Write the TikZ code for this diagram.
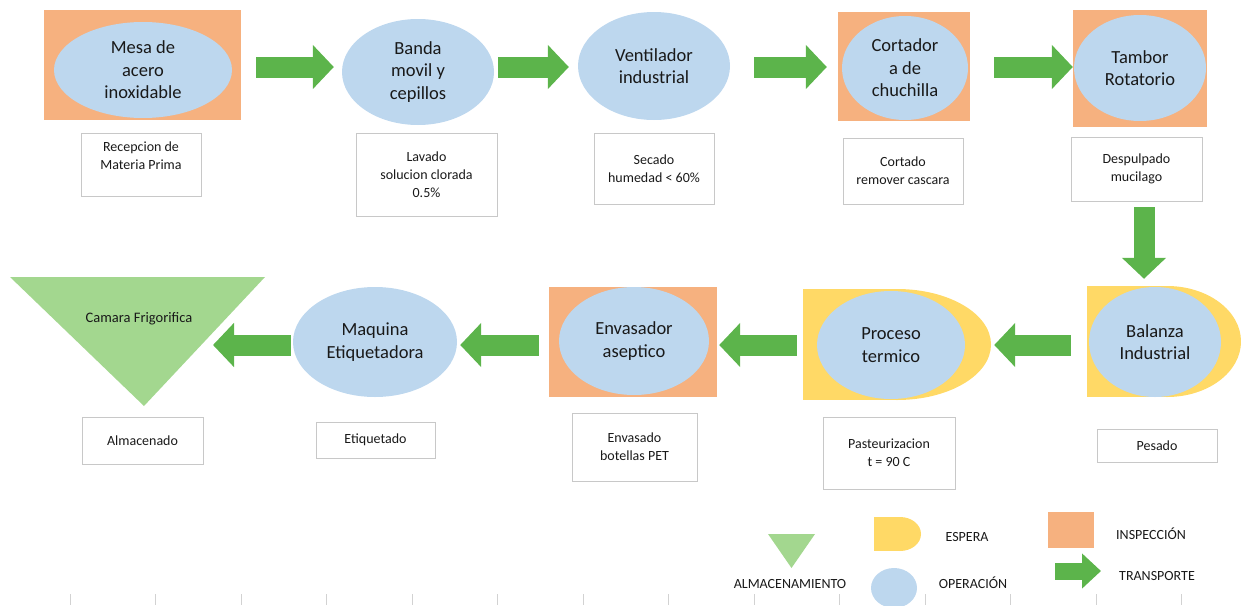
\documentclass[tikz,border=0pt]{standalone}
\usepackage{fontspec}
\setmainfont{Carlito}
\usepackage{tikz}
\usetikzlibrary{shapes.geometric, arrows.meta}

\definecolor{opblue}{HTML}{BDD7EE}
\definecolor{inorange}{HTML}{F6B17F}
\definecolor{espyellow}{HTML}{FFD966}
\definecolor{trgreen}{HTML}{5CB44B}
\definecolor{almgreen}{HTML}{A3D78F}
\definecolor{notagray}{HTML}{C8C8C8}

\tikzset{
    oper/.style={ellipse, fill=opblue, inner sep=0pt, align=center, text=black!90, font=\fontsize{18.5}{22.5}\selectfont},
    insp/.style={rectangle, fill=inorange, inner sep=0pt},
    esp/.style={fill=espyellow, inner sep=0pt},
    nota/.style={rectangle, draw=notagray, line width=0.9pt, inner sep=0pt, align=center, text=black!90, font=\fontsize{14}{18}\selectfont},
    transp/.style={draw=trgreen, line width=21pt, -{Triangle[width=43pt, length=21pt]}},
    leyenda/.style={inner sep=0pt, text=black!90, font=\fontsize{14}{16}\selectfont}
}

\begin{document}
\begin{tikzpicture}[x=1pt, y=-1pt]

        \useasboundingbox (0,0) rectangle (1241,605);
        \coordinate (filaA) at (0,67);
        \coordinate (filaB) at (0,345);
        \coordinate (bajada) at (1144,0);

        % primera fila
            \node[insp, minimum width=197pt, minimum height=110pt] (mesaI) at (142.5,65) {};
            \node[oper, minimum width=178pt, minimum height=96pt] (mesa) at (143,70) {Mesa de\\acero\\inoxidable};
            \node[nota, minimum width=120pt, minimum height=63pt] (recepcion) at (141,164.5) {Recepcion de\\Materia Prima\\\mbox{}};

            \node[oper, minimum width=152pt, minimum height=106pt] (banda) at (418,72) {Banda\\movil y\\cepillos};
            \node[nota, minimum width=141pt, minimum height=83pt] (lavado) at (426.5,174.5) {Lavado\\solucion clorada\\0.5\%};

            \node[oper, minimum width=152pt, minimum height=108pt] (ventilador) at (654,66) {Ventilador\\industrial};
            \node[nota, minimum width=120pt, minimum height=71pt] (secado) at (654,168.5) {Secado\\humedad < 60\%};

            \node[insp, minimum width=132pt, minimum height=109pt] (cortadorI) at (904,66.5) {};
            \node[oper, minimum width=126pt, minimum height=104pt] (cortador) at (905,68) {Cortador\\a de\\chuchilla};
            \node[nota, minimum width=120pt, minimum height=66pt] (cortado) at (903,171) {Cortado\\remover cascara};

            \node[insp, minimum width=134pt, minimum height=117pt] (tamborI) at (1140,68.5) {};
            \node[oper, minimum width=132pt, minimum height=106pt] (tambor) at (1140,68) {Tambor\\Rotatorio};
            \node[nota, minimum width=131pt, minimum height=64pt] (despulpado) at (1136.5,169) {Despulpado\\mucilago};

            \draw[transp, shorten <=15pt, shorten >=8pt] (mesaI.east |- filaA) -- (banda.west |- filaA);
            \draw[transp, shorten <=4pt, shorten >=9pt] (banda.east |- filaA) -- (ventilador.west |- filaA);
            \draw[transp, shorten <=24pt, shorten >=11pt] (ventilador.east |- filaA) -- (cortadorI.west |- filaA);
            \draw[transp, shorten <=24pt, shorten >=0pt] (cortadorI.east |- filaA) -- (tamborI.west |- filaA);

        % segunda fila
            \node[esp, minimum width=80pt, minimum height=111pt] (balanzaE) at (1127,341.5) {};
            \node[esp, ellipse, minimum width=148pt, minimum height=111pt] (balanzaD) at (1167,341.5) {};
            \node[oper, minimum width=132pt, minimum height=110pt] (balanza) at (1155,342) {Balanza\\Industrial};
            \node[nota, minimum width=120pt, minimum height=33pt] (pesado) at (1157,445.5) {Pesado};

            \node[esp, minimum width=94pt, minimum height=111pt] (procesoE) at (850,344.5) {};
            \node[esp, ellipse, minimum width=188pt, minimum height=111pt] (procesoD) at (897,344.5) {};
            \node[oper, minimum width=148pt, minimum height=108pt] (proceso) at (891,345) {Proceso\\termico};
            \node[nota, minimum width=132pt, minimum height=72pt] (pasteur) at (889,453) {Pasteurizacion\\t = 90 C};

            \node[insp, minimum width=168pt, minimum height=110pt] (envasadorI) at (633,342) {};
            \node[oper, minimum width=150pt, minimum height=108pt] (envasador) at (634,341) {Envasador\\aseptico};
            \node[nota, minimum width=125pt, minimum height=68pt] (envasado) at (634.5,447) {Envasado\\botellas PET};

            \node[oper, minimum width=164pt, minimum height=110pt] (maquina) at (375,342) {Maquina\\Etiquetadora};
            \node[nota, minimum width=119pt, minimum height=36pt] (etiquetado) at (375.5,440) {Etiquetado};

            \fill[almgreen] (10,277) -- (265,277) -- (144,406) -- cycle;
            \coordinate (camaraR) at (201,345);
            \node[leyenda, font=\fontsize{14.5}{16}\selectfont] (camara) at (139,319) {Camara Frigorifica};
            \node[nota, minimum width=121pt, minimum height=47pt] (almacenado) at (142.5,440.5) {Almacenado};

            \draw[transp, shorten <=6pt, shorten >=7pt] (despulpado.south -| bajada) -- (balanzaE.north -| bajada);
            \draw[transp, shorten <=16pt, shorten >=3pt] (balanzaE.west |- filaB) -- (procesoD.east |- filaB);
            \draw[transp, shorten <=6pt, shorten >=2pt] (procesoE.west |- filaB) -- (envasadorI.east |- filaB);
            \draw[transp, shorten <=10pt, shorten >=3pt] (envasadorI.west |- filaB) -- (maquina.east |- filaB);
            \draw[transp, shorten <=2pt, shorten >=12pt] (maquina.west |- filaB) -- (camaraR);

        % leyenda
            \fill[almgreen] (768,534) -- (815,534) -- (791.5,568) -- cycle;
            \node[leyenda] (almL) at (790,584) {ALMACENAMIENTO};
            \node[esp, minimum width=26pt, minimum height=34pt] (espR) at (887,534) {};
            \node[esp, ellipse, minimum width=42pt, minimum height=34pt] (espD) at (900,534) {};
            \node[leyenda] (espL) at (967,537) {ESPERA};
            \node[ellipse, fill=opblue, minimum width=46pt, minimum height=40pt] (opC) at (894,588) {};
            \node[leyenda] (opL) at (973,583) {OPERACIÓN};
            \node[insp, minimum width=46pt, minimum height=36pt] (inR) at (1071,530) {};
            \node[leyenda] (inL) at (1151,534) {INSPECCIÓN};
            \coordinate (trA) at (1055,571);
            \coordinate (trB) at (1101,571);
            \draw[draw=trgreen, line width=17pt, -{Triangle[width=34pt, length=19pt]}] (trA) -- (trB);
            \node[leyenda] (trL) at (1157,576) {TRANSPORTE};

        % marcas
            \foreach \i in {0,...,13}
                \draw[gray!35, line width=0.8pt] ({70+85.5*\i},594) -- ({70+85.5*\i},605);

        \end{tikzpicture}
\end{document}
